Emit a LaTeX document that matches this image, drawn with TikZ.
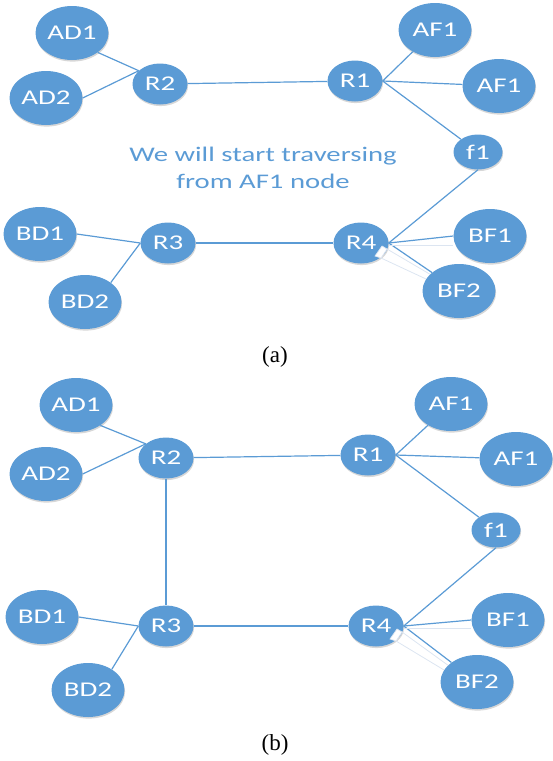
\documentclass[tikz,border=0pt]{standalone}
\usepackage{fontspec}
\usetikzlibrary{shapes.geometric,shadows}
\newfontfamily\nodefont[FakeStretch=1.38]{Carlito}
\newfontfamily\capfont{Liberation Serif}
\definecolor{nodeblue}{HTML}{5B9BD5}
\definecolor{ghost}{HTML}{DCE5F1}
\tikzset{
  nd/.style={ellipse, fill=nodeblue, text=white, inner sep=0pt,
    font=\nodefont\fontsize{21}{24}\selectfont,
    drop shadow={shadow xshift=0.6pt, shadow yshift=-1.6pt, fill=black!35, opacity=0.45}},
  big/.style={nd, minimum width=73pt, minimum height=54pt},
  small/.style={nd, minimum width=55pt, minimum height=41pt},
  tiny/.style={nd, minimum width=49pt, minimum height=35pt},
  link/.style={draw=nodeblue, line width=1.2pt},
  faint/.style={draw=ghost, line width=0.8pt},
  caption/.style={font=\capfont\fontsize{23}{27}\selectfont},
  note/.style={text=nodeblue, font=\nodefont\fontsize{20.8}{27}\selectfont, align=center}
}
\begin{document}
\begin{tikzpicture}[x=1pt, y=-1pt]
\useasboundingbox (0,0) rectangle (552,761);

% ---------- (a) ----------
\node[big]   (aAD1) at (72,33)   {AD1};
\node[big]   (aAD2) at (46,98)   {AD2};
\node[small] (aR2)  at (160,84)  {R2};
\node[small] (aR1)  at (355,81)  {R1};
\node[big]   (aAFt) at (435,30)  {AF1};
\node[big]   (aAFr) at (499,86)  {AF1};
\node[tiny]  (af1)  at (478,152) {f1};
\node[big]   (aBD1) at (40,234)  {BD1};
\node[big]   (aBD2) at (85,302)  {BD2};
\node[small] (aR3)  at (168,243) {R3};
\node[small] (aR4)  at (361,243) {R4};
\node[big]   (aBF1) at (490,236) {BF1};
\node[big]   (aBF2) at (459,291) {BF2};

\node[note] (anote) at (263,168) {We will start traversing\\from AF1 node};

\draw[link] (aAD1.-37) -- (aR2.148);
\draw[link] (aAD2.east) -- (aR2.148);
\draw[link] (aR2) -- (aR1);
\draw[link] (aR1.east) -- (aAFt);
\draw[link] (aR1.east) -- (aAFr);
\draw[link] (aR1.east) -- (af1);
\draw[link] (aR4.east) -- (af1.south);
\draw[link] (aR4.east) -- (aBF1.west);
\draw[link] (aR4.east) -- (aBF2);
\draw[link] (aR3.west) -- (aBD1.east);
\draw[link] (aR3.west) -- (aBD2.37);
\draw[link] (aR3) -- (aR4);

% pale handle lines around R4
\coordinate (ah1) at (382,246);
\coordinate (ah2) at (387,249);
\coordinate (ah3) at (381,258);
\coordinate (ah4) at (375,256);
\draw[faint] (aR4.east) ++(0,2) -- (aBF1.west |- 0,245);
\draw[faint] (ah2) -- (aBF2.150);
\draw[faint] (ah3) -- (aBF2.160);
\draw[draw=ghost, fill=white, line width=0.7pt] (ah1) -- (ah2) -- (ah3) -- (ah4) -- cycle;

\node[caption] (acap) at (275,357) {(a)};

% ---------- (b) ----------
\node[big]   (bAD1) at (76,405)  {AD1};
\node[big]   (bAD2) at (46,474)  {AD2};
\node[small] (bR2)  at (166,458) {R2};
\node[small] (bR1)  at (368,455) {R1};
\node[big]   (bAFt) at (451,404) {AF1};
\node[big]   (bAFr) at (516,459) {AF1};
\node[tiny]  (bf1)  at (496,530) {f1};
\node[big]   (bBD1) at (42,617)  {BD1};
\node[big]   (bBD2) at (88,690)  {BD2};
\node[small] (bR3)  at (166,626) {R3};
\node[small] (bR4)  at (376,626) {R4};
\node[big]   (bBF1) at (508,620) {BF1};
\node[big]   (bBF2) at (477,682) {BF2};

\draw[link] (bAD1.-40) -- (bR2.145);
\draw[link] (bAD2.east) -- (bR2.145);
\draw[link] (bR2) -- (bR1);
\draw[link] (bR2) -- (bR3);
\draw[link] (bR1.east) -- (bAFt);
\draw[link] (bR1.east) -- (bAFr);
\draw[link] (bR1.east) -- (bf1);
\draw[link] (bR4.east) -- (bf1.south);
\draw[link] (bR4.east) -- (bBF1.west);
\draw[link] (bR4.east) -- (bBF2);
\draw[link] (bR3.west) -- (bBD1.east);
\draw[link] (bR3.west) -- (bBD2.41);
\draw[link] (bR3) -- (bR4);

% pale handle lines around R4
\coordinate (bh1) at (397,629);
\coordinate (bh2) at (402,632);
\coordinate (bh3) at (396,641);
\coordinate (bh4) at (390,639);
\draw[faint] (bR4.east) ++(0,2) -- (bBF1.west |- 0,628);
\draw[faint] (bh2) -- (bBF2.150);
\draw[faint] (bh3) -- (bBF2.160);
\draw[draw=ghost, fill=white, line width=0.7pt] (bh1) -- (bh2) -- (bh3) -- (bh4) -- cycle;

\node[caption] (bcap) at (275,745) {(b)};
\end{tikzpicture}
\end{document}
